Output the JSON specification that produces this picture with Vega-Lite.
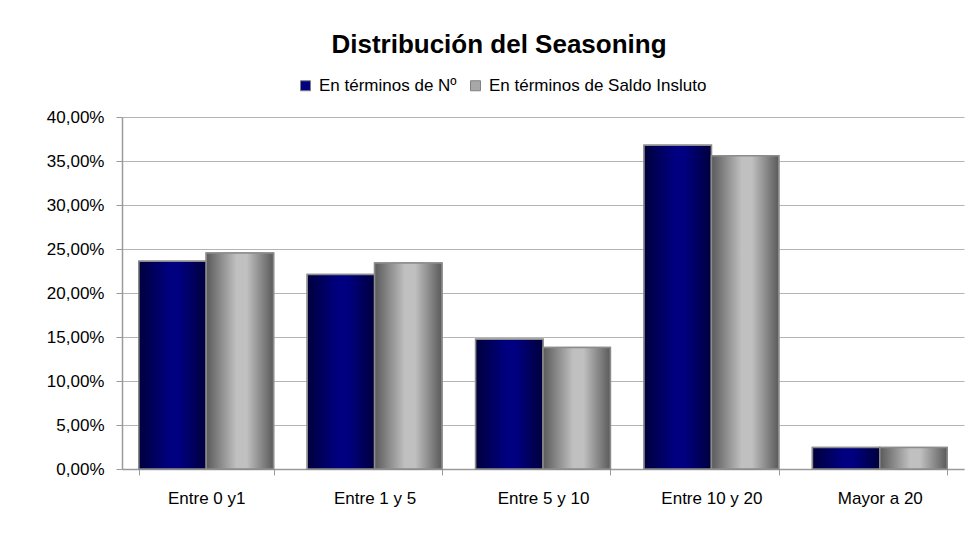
{
  "$schema": "https://vega.github.io/schema/vega-lite/v6.json",
  "width": 842,
  "height": 352,
  "autosize": {"type": "none"},
  "padding": {"left": 122, "top": 117, "right": 5, "bottom": 68},
  "background": "white",
  "title": {
    "text": "Distribución del Seasoning",
    "font": "Liberation Sans",
    "fontSize": 26,
    "fontWeight": "bold",
    "color": "#000000",
    "anchor": "middle",
    "frame": "group",
    "dx": -44,
    "offset": 19
  },
  "data": {
    "values": [
      {"cat": "Entre 0 y1", "serie": "En términos de Nº", "v": 0.236},
      {"cat": "Entre 0 y1", "serie": "En términos de Saldo Insluto", "v": 0.2455},
      {"cat": "Entre 1 y 5", "serie": "En términos de Nº", "v": 0.221},
      {"cat": "Entre 1 y 5", "serie": "En términos de Saldo Insluto", "v": 0.234},
      {"cat": "Entre 5 y 10", "serie": "En términos de Nº", "v": 0.1475},
      {"cat": "Entre 5 y 10", "serie": "En términos de Saldo Insluto", "v": 0.138},
      {"cat": "Entre 10 y 20", "serie": "En términos de Nº", "v": 0.368},
      {"cat": "Entre 10 y 20", "serie": "En términos de Saldo Insluto", "v": 0.356},
      {"cat": "Mayor a 20", "serie": "En términos de Nº", "v": 0.0245},
      {"cat": "Mayor a 20", "serie": "En términos de Saldo Insluto", "v": 0.0245}
    ]
  },
  "encoding": {
    "x": {
      "field": "cat",
      "type": "nominal",
      "sort": null,
      "scale": {"paddingInner": 0.2, "paddingOuter": 0.1},
      "axis": {
        "title": null,
        "labelAngle": 0,
        "tickBand": "extent",
        "tickSize": 6,
        "labelPadding": 15,
        "grid": false
      }
    },
    "xOffset": {"field": "serie", "type": "nominal", "scale": {"paddingInner": 0, "paddingOuter": 0}},
    "y": {
      "field": "v",
      "type": "quantitative",
      "scale": {"domain": [0, 0.4], "nice": false},
      "axis": {
        "title": null,
        "format": ".2%",
        "values": [0, 0.05, 0.1, 0.15, 0.2, 0.25, 0.3, 0.35, 0.4],
        "tickSize": 6,
        "labelPadding": 12,
        "grid": true
      }
    }
  },
  "layer": [
    {
      "mark": {"type": "bar", "stroke": "#8c8c8c", "strokeWidth": 1.5},
      "encoding": {
        "color": {
          "field": "serie",
          "type": "nominal",
          "scale": {"domain": ["En términos de Nº", "En términos de Saldo Insluto"], "range": ["#000080", "#a8a8a8"]},
          "legend": {
            "title": null,
            "orient": "none",
            "direction": "horizontal",
            "legendX": 175,
            "legendY": -40,
            "symbolType": "square",
            "symbolSize": 100,
            "symbolStrokeColor": "#808080",
            "symbolStrokeWidth": 1,
            "symbolOpacity": 1,
            "labelFont": "Liberation Sans",
            "labelFontSize": 17,
            "labelColor": "#000000",
            "labelOffset": 5,
            "columnPadding": 10,
            "labelLimit": 400
          }
        }
      }
    },
    {
      "transform": [{"filter": "datum.serie === 'En términos de Nº'"}],
      "mark": {
        "type": "bar",
        "stroke": "#8c8c8c",
        "strokeWidth": 1.5,
        "fill": {
          "gradient": "linear", "x1": 0, "x2": 1, "y1": 0, "y2": 0,
          "stops": [
            {"offset": 0, "color": "#00003c"},
            {"offset": 0.45, "color": "#000080"},
            {"offset": 0.6, "color": "#000080"},
            {"offset": 1, "color": "#00003c"}
          ]
        }
      },
      "encoding": {}
    },
    {
      "transform": [{"filter": "datum.serie === 'En términos de Saldo Insluto'"}],
      "mark": {
        "type": "bar",
        "stroke": "#8c8c8c",
        "strokeWidth": 1.5,
        "fill": {
          "gradient": "linear", "x1": 0, "x2": 1, "y1": 0, "y2": 0,
          "stops": [
            {"offset": 0, "color": "#5a5a5a"},
            {"offset": 0.45, "color": "#c0c0c0"},
            {"offset": 0.6, "color": "#c0c0c0"},
            {"offset": 1, "color": "#5a5a5a"}
          ]
        }
      },
      "encoding": {}
    }
  ],
  "config": {
    "locale": {"number": {"decimal": ",", "thousands": ".", "grouping": [3], "currency": ["", " €"]}},
    "font": "Liberation Sans",
    "view": {"stroke": null},
    "axis": {
      "labelFont": "Liberation Sans",
      "labelFontSize": 17,
      "labelColor": "#000000",
      "domainColor": "#9a9a9a",
      "domainWidth": 1.5,
      "tickColor": "#9a9a9a",
      "tickWidth": 1,
      "gridColor": "#b4b4b4",
      "gridWidth": 1
    }
  }
}
